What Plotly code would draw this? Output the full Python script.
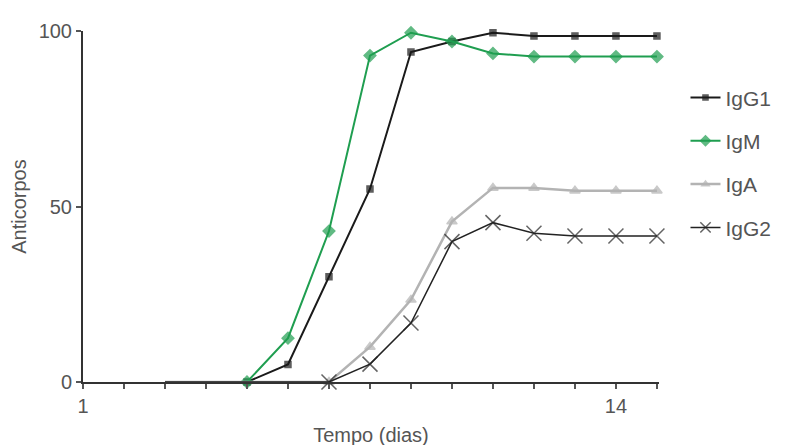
import plotly.graph_objects as go

days = list(range(3, 16))
igg1 = [0, 0, 0, 5, 30, 55, 94, 97, 99.5, 98.6, 98.6, 98.6, 98.6]
igm = [0, 0, 0, 12.5, 43, 93, 99.5, 97, 93.6, 92.7, 92.7, 92.7, 92.7]
iga = [0, 0, 0, 0, 0, 10, 23.4, 45.7, 55.3, 55.3, 54.5, 54.5, 54.5]
igg2 = [0, 0, 0, 0, 0, 5.1, 16.8, 40, 45.4, 42.4, 41.6, 41.6, 41.6]

x_tickvals = list(range(1, 16))
x_ticktext = ["1"] + [""] * 12 + ["14", ""]
y_tickvals = [0, 50, 100]

def sizes(vals, s):
    # hide markers on the leading zero run except the last one before rise
    out = []
    for i, v in enumerate(vals):
        nxt = vals[i + 1] if i + 1 < len(vals) else 1
        out.append(0 if (v == 0 and nxt == 0) else s)
    return out

fig = go.Figure()
series = [
    ("IgG1", igg1, "#1a1a1a", "#1a1a1a", "square", 6, 2),
    ("IgM", igm, "#1f9e50", "#1f9e50", "diamond", 9, 2),
    ("IgA", iga, "#b3b3b3", "#b3b3b3", "triangle-up", 9, 2.5),
    ("IgG2", igg2, "#222222", "#222222", "x-thin-open", 15, 1.5),
]
for name, vals, lc, mc, sym, ms, lw in series:
    fig.add_trace(go.Scatter(
        x=days, y=vals, name=name, mode="lines+markers",
        line=dict(color=lc, width=lw),
        marker=dict(symbol=sym, size=sizes(vals, ms), color=mc,
                    line=dict(color=mc, width=1.5)),
        cliponaxis=False, legendgroup=name,
    ))

fig.update_layout(
    width=788, height=445,
    margin=dict(l=75, r=137, t=23, b=71),
    plot_bgcolor="white", paper_bgcolor="white",
    font=dict(family="Liberation Sans, Arial, sans-serif", size=20, color="#555"),
    showlegend=True,
    legend=dict(x=1.046, y=0.868, xanchor="left", yanchor="top",
                traceorder="grouped", tracegroupgap=13,
                font=dict(size=21, color="#555"), itemwidth=30),
)
fig.update_xaxes(
    range=[1, 15.05], tickvals=x_tickvals, ticktext=x_ticktext,
    ticks="outside", ticklen=5, tickwidth=1.5, tickcolor="#555",
    showline=True, linecolor="#333", linewidth=2,
    showgrid=False, zeroline=False, automargin=False,
    title=dict(text="Tempo (dias)", standoff=12, font=dict(size=20)),
)
fig.update_yaxes(
    range=[0, 100], tickvals=y_tickvals,
    ticks="outside", ticklen=5, tickwidth=1.5, tickcolor="#555",
    showline=True, linecolor="#333", linewidth=2,
    showgrid=False, zeroline=False, automargin=False,
    title=dict(text="Anticorpos", standoff=8, font=dict(size=20)),
)
fig.write_html("out.html")
